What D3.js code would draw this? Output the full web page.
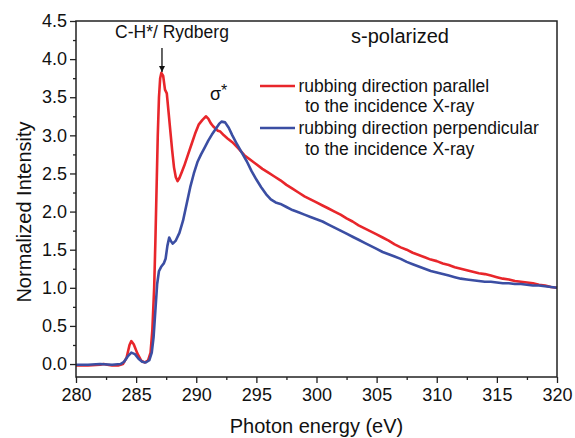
<!DOCTYPE html>
<html>
<head>
<meta charset="utf-8">
<script src="https://cdn.jsdelivr.net/npm/d3@7/dist/d3.min.js"></script>
<style>
  html, body { margin: 0; padding: 0; background: #fff; }
  svg { display: block; font-family: "Liberation Sans", Arial, sans-serif; }
</style>
</head>
<body>
<svg id="chart" width="575" height="438"></svg>
<script>
// ---- data ----
const xTicks = [280, 285, 290, 295, 300, 305, 310, 315, 320];
const xTickLabels = ["280", "285", "290", "295", "300", "305", "310", "315", "320"];
const yTicks = [0, 0.5, 1, 1.5, 2, 2.5, 3, 3.5, 4, 4.5];
const yTickLabels = ["0.0", "0.5", "1.0", "1.5", "2.0", "2.5", "3.0", "3.5", "4.0", "4.5"];
const xMinor = [282.5, 287.5, 292.5, 297.5, 302.5, 307.5, 312.5, 317.5];
const yMinor = [0.25, 0.75, 1.25, 1.75, 2.25, 2.75, 3.25, 3.75, 4.25];

const seriesNames = [
  ["rubbing direction parallel", "to the incidence X-ray"],
  ["rubbing direction perpendicular", "to the incidence X-ray"]
];

const energyParallel = [280.0, 281.0, 282.0, 282.3, 282.6, 283.0, 283.5, 283.9, 284.2, 284.45, 284.6, 284.8, 285.1, 285.4, 285.7, 286.0, 286.2, 286.35, 286.5, 286.6, 286.7, 286.8, 286.9, 287.0, 287.1, 287.25, 287.4, 287.55, 287.7, 287.85, 288.0, 288.15, 288.3, 288.45, 288.6, 288.8, 289.0, 289.3, 289.6, 289.9, 290.2, 290.5, 290.8, 291.0, 291.2, 291.4, 291.6, 291.8, 292.0, 292.3, 292.6, 293.0, 293.5, 294.0, 294.5, 295.0, 295.5, 296.0, 296.5, 297.0, 297.5, 298.0, 298.5, 299.0, 299.5, 300.0, 300.5, 301.0, 301.5, 302.0, 302.5, 303.0, 303.5, 304.0, 304.5, 305.0, 305.5, 306.0, 306.5, 307.0, 307.5, 308.0, 308.5, 309.0, 309.5, 310.0, 310.5, 311.0, 311.5, 312.0, 312.5, 313.0, 313.5, 314.0, 314.5, 315.0, 315.5, 316.0, 316.5, 317.0, 317.5, 318.0, 318.5, 319.0, 319.5, 320.0];
const intensityParallel = [-0.02, -0.02, -0.01, 0.00, -0.01, -0.02, -0.02, 0.00, 0.08, 0.25, 0.30, 0.26, 0.14, 0.05, 0.02, 0.05, 0.15, 0.45, 1.00, 1.60, 2.30, 3.00, 3.50, 3.75, 3.82, 3.78, 3.60, 3.55, 3.30, 3.05, 2.80, 2.58, 2.45, 2.40, 2.44, 2.52, 2.60, 2.74, 2.88, 3.02, 3.14, 3.20, 3.25, 3.22, 3.16, 3.12, 3.09, 3.06, 3.05, 3.00, 2.96, 2.91, 2.83, 2.74, 2.68, 2.62, 2.56, 2.51, 2.46, 2.41, 2.35, 2.30, 2.25, 2.20, 2.16, 2.12, 2.08, 2.04, 2.00, 1.96, 1.91, 1.87, 1.82, 1.78, 1.74, 1.70, 1.66, 1.62, 1.57, 1.53, 1.50, 1.46, 1.43, 1.40, 1.37, 1.35, 1.32, 1.30, 1.27, 1.25, 1.23, 1.21, 1.19, 1.18, 1.16, 1.14, 1.12, 1.11, 1.09, 1.08, 1.07, 1.06, 1.04, 1.03, 1.01, 1.00];

const energyPerpendicular = [280.0, 281.0, 282.0, 283.0, 283.7, 284.0, 284.3, 284.6, 284.9, 285.2, 285.5, 285.8, 286.1, 286.3, 286.45, 286.6, 286.75, 286.9, 287.1, 287.3, 287.45, 287.6, 287.75, 287.9, 288.05, 288.3, 288.6, 288.9, 289.2, 289.5, 289.8, 290.1, 290.4, 290.7, 291.0, 291.3, 291.6, 291.9, 292.1, 292.4, 292.7, 293.0, 293.4, 293.8, 294.2, 294.6, 295.0, 295.4, 295.8, 296.2, 296.6, 297.0, 297.5, 298.0, 298.5, 299.0, 299.5, 300.0, 300.5, 301.0, 301.5, 302.0, 302.5, 303.0, 303.5, 304.0, 304.5, 305.0, 305.5, 306.0, 306.5, 307.0, 307.5, 308.0, 308.5, 309.0, 309.5, 310.0, 310.5, 311.0, 311.5, 312.0, 312.5, 313.0, 313.5, 314.0, 314.5, 315.0, 315.5, 316.0, 316.5, 317.0, 317.5, 318.0, 318.5, 319.0, 319.5, 320.0];
const intensityPerpendicular = [-0.01, -0.01, 0.00, -0.01, 0.00, 0.03, 0.10, 0.15, 0.13, 0.07, 0.03, 0.02, 0.05, 0.15, 0.35, 0.70, 1.05, 1.22, 1.28, 1.32, 1.38, 1.55, 1.66, 1.61, 1.58, 1.62, 1.72, 1.88, 2.10, 2.32, 2.50, 2.65, 2.75, 2.84, 2.93, 3.01, 3.08, 3.15, 3.18, 3.17, 3.10, 3.00, 2.88, 2.77, 2.66, 2.53, 2.42, 2.32, 2.23, 2.16, 2.12, 2.10, 2.06, 2.02, 1.99, 1.96, 1.93, 1.90, 1.87, 1.83, 1.79, 1.75, 1.71, 1.67, 1.63, 1.59, 1.55, 1.51, 1.47, 1.44, 1.41, 1.38, 1.34, 1.31, 1.28, 1.25, 1.22, 1.20, 1.18, 1.16, 1.14, 1.12, 1.11, 1.10, 1.09, 1.08, 1.08, 1.07, 1.06, 1.06, 1.05, 1.05, 1.04, 1.03, 1.03, 1.02, 1.01, 1.00];

const colors = ["#e8262b", "#3b4ea3"];

// ---- layout ----
const svg = d3.select("#chart");
const mLeft = 76, mRight = 557, mTop = 21, mBottom = 377;

const x = d3.scaleLinear().domain([280, 320]).range([mLeft, mRight]);
const y = d3.scaleLinear().domain([-0.17, 4.5]).range([mBottom, mTop]);

// axes
const xAxis = d3.axisBottom(x).tickValues(xTicks).tickSize(6).tickPadding(5)
  .tickFormat((d, i) => xTickLabels[i]);
const gx = svg.append("g").attr("transform", `translate(0,${mBottom})`).call(xAxis);
const xAxisMinor = d3.axisBottom(x).tickValues(xMinor).tickSize(3).tickFormat("");
const gxm = svg.append("g").attr("transform", `translate(0,${mBottom})`).call(xAxisMinor);

const yAxis = d3.axisLeft(y).tickValues(yTicks).tickSize(6).tickPadding(3)
  .tickFormat((d, i) => yTickLabels[i]);
const gy = svg.append("g").attr("transform", `translate(${mLeft},0)`).call(yAxis);
const yAxisMinor = d3.axisLeft(y).tickValues(yMinor).tickSize(3).tickFormat("");
const gym = svg.append("g").attr("transform", `translate(${mLeft},0)`).call(yAxisMinor);

[gx, gxm, gy, gym].forEach(g => {
  g.select(".domain").remove();
  g.selectAll("line").attr("stroke", "#222").attr("stroke-width", 1.3);
  g.selectAll("text").attr("fill", "#111").style("font-size", "18px")
    .style("font-family", "'Liberation Sans', Arial, sans-serif");
});

// lines
const line = d3.line().x(d => x(d[0])).y(d => y(d[1]));
const dataPar = energyParallel.map((e, i) => [e, intensityParallel[i]]);
const dataPerp = energyPerpendicular.map((e, i) => [e, intensityPerpendicular[i]]);

svg.append("path").datum(dataPar).attr("d", line)
  .attr("fill", "none").attr("stroke", colors[0]).attr("stroke-width", 2.6)
  .attr("stroke-linejoin", "round");
svg.append("path").datum(dataPerp).attr("d", line)
  .attr("fill", "none").attr("stroke", colors[1]).attr("stroke-width", 2.6)
  .attr("stroke-linejoin", "round");

// frame
svg.append("rect").attr("x", mLeft).attr("y", mTop)
  .attr("width", mRight - mLeft).attr("height", mBottom - mTop)
  .attr("fill", "none").attr("stroke", "#222").attr("stroke-width", 1.5);

// axis titles
svg.append("text").attr("x", (mLeft + mRight) / 2).attr("y", 433)
  .attr("text-anchor", "middle").style("font-size", "20px").attr("fill", "#111")
  .text("Photon energy (eV)");
svg.append("text").attr("transform", "translate(31,212) rotate(-90)")
  .attr("text-anchor", "middle").style("font-size", "20px").attr("fill", "#111")
  .text("Normalized Intensity");

// annotations
svg.append("text").attr("x", 172).attr("y", 38).attr("text-anchor", "middle")
  .style("font-size", "17.5px").attr("fill", "#111").text("C-H*/ Rydberg");
svg.append("defs").append("marker").attr("id", "ah")
  .attr("viewBox", "0 0 10 10").attr("refX", 10).attr("refY", 5)
  .attr("markerWidth", 5).attr("markerHeight", 5).attr("orient", "auto")
  .append("path").attr("d", "M0,0 L10,5 L0,10 z").attr("fill", "#111");
svg.append("line").attr("x1", x(287.15)).attr("x2", x(287.15))
  .attr("y1", 48).attr("y2", 72).attr("stroke", "#111").attr("stroke-width", 1.3)
  .attr("marker-end", "url(#ah)");
svg.append("text").attr("x", 210).attr("y", 100)
  .style("font-size", "18px").attr("fill", "#111")
  .text("σ").append("tspan").attr("dy", -4).style("font-size", "16px").text("*");
svg.append("text").attr("x", 400).attr("y", 43).attr("text-anchor", "middle")
  .style("font-size", "20px").attr("fill", "#111").text("s-polarized");

// legend
const legendRows = [{ ly: 86, t1: 92, t2: 112 }, { ly: 128, t1: 133.5, t2: 155 }];
legendRows.forEach((r, i) => {
  svg.append("line").attr("x1", 260).attr("x2", 295).attr("y1", r.ly).attr("y2", r.ly)
    .attr("stroke", colors[i]).attr("stroke-width", 2.6);
  svg.append("text").attr("x", 298.5).attr("y", r.t1).style("font-size", "17.5px")
    .attr("fill", "#111").text(seriesNames[i][0]);
  svg.append("text").attr("x", 305).attr("y", r.t2).style("font-size", "17.5px")
    .attr("fill", "#111").text(seriesNames[i][1]);
});
</script>
</body>
</html>
